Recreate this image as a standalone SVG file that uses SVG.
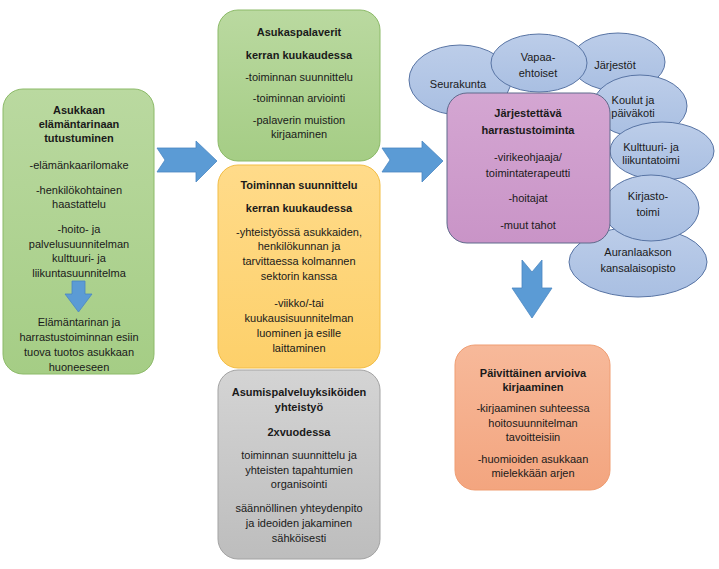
<svg xmlns="http://www.w3.org/2000/svg" width="719" height="569" viewBox="0 0 719 569">
<defs>
<linearGradient id="gGreen" x1="0" y1="0" x2="0" y2="1"><stop offset="0" stop-color="#bad9a0"/><stop offset="1" stop-color="#a5cd85"/></linearGradient>
<linearGradient id="gOrange" x1="0" y1="0" x2="0" y2="1"><stop offset="0" stop-color="#ffdb8a"/><stop offset="1" stop-color="#fdd06a"/></linearGradient>
<linearGradient id="gGray" x1="0" y1="0" x2="0" y2="1"><stop offset="0" stop-color="#d4d4d4"/><stop offset="1" stop-color="#bdbdbd"/></linearGradient>
<linearGradient id="gPurple" x1="0" y1="0" x2="0" y2="1"><stop offset="0" stop-color="#d4a6d2"/><stop offset="1" stop-color="#c994c7"/></linearGradient>
<linearGradient id="gSalmon" x1="0" y1="0" x2="0" y2="1"><stop offset="0" stop-color="#f7b99a"/><stop offset="1" stop-color="#f3a57f"/></linearGradient>
<linearGradient id="gBlue" x1="0" y1="0" x2="0" y2="1"><stop offset="0" stop-color="#bccde9"/><stop offset="1" stop-color="#a9bfe2"/></linearGradient>
</defs>
<style>
text{font-family:"Liberation Sans",Arial,sans-serif;font-size:11px;fill:#1a1a1a;text-anchor:middle}
.b{font-weight:bold}
.green{fill:url(#gGreen);stroke:#8cba68;stroke-width:1}
.orange{fill:url(#gOrange);stroke:#f2bd45;stroke-width:1}
.gray{fill:url(#gGray);stroke:#a3a3a3;stroke-width:1}
.purple{fill:url(#gPurple);stroke:#5f6a8c;stroke-width:1}
.salmon{fill:url(#gSalmon);stroke:#ef9d72;stroke-width:1}
.ell{fill:url(#gBlue);stroke:#5874a4;stroke-width:1}
.arrow{fill:#5b9bd5;stroke:#4a86c2;stroke-width:0.8}
</style>
<g id="connectors">
<path class="arrow" d="M157,148 L196,148 L196,141 L217,161 L196,182 L196,172 L157,172 L165,160 Z"/>
<path class="arrow" d="M382,148 L422,148 L422,141 L443,161 L422,182 L422,172 L382,172 L390,160 Z"/>
<path class="arrow" d="M522,260 L532,272 L542,260 L542,288 L552,288 L532,318 L512,288 L522,288 Z"/>
</g>
<g id="node-left">
<rect class="green" x="3" y="89" width="151" height="285" rx="20"/>
<text class="b" x="79" y="114">Asukkaan</text>
<text class="b" x="79" y="128">elämäntarinaan</text>
<text class="b" x="79" y="142">tutustuminen</text>
<text x="79" y="169">-elämänkaarilomake</text>
<text x="79" y="194">-henkilökohtainen</text>
<text x="79" y="208">haastattelu</text>
<text x="79" y="233">-hoito- ja</text>
<text x="79" y="248">palvelusuunnitelman</text>
<text x="79" y="262">kulttuuri- ja</text>
<text x="79" y="277">liikuntasuunnitelma</text>
<path class="arrow" d="M72,281 L85,281 L85,294 L92,294 L78.5,312 L65,294 L72,294 Z"/>
<text x="79" y="326">Elämäntarinan ja</text>
<text x="79" y="341">harrastustoiminnan esiin</text>
<text x="79" y="356">tuova tuotos asukkaan</text>
<text x="79" y="371">huoneeseen</text>
</g>
<g id="node-palaverit">
<rect class="green" x="218" y="10" width="162" height="151" rx="20"/>
<text class="b" x="299" y="36">Asukaspalaverit</text>
<text class="b" x="299" y="59">kerran kuukaudessa</text>
<text x="299" y="81">-toiminnan suunnittelu</text>
<text x="299" y="102">-toiminnan arviointi</text>
<text x="299" y="124">-palaverin muistion</text>
<text x="299" y="138">kirjaaminen</text>
</g>
<g id="node-suunnittelu">
<rect class="orange" x="218" y="165" width="162" height="203" rx="20"/>
<text class="b" x="299" y="189">Toiminnan suunnittelu</text>
<text class="b" x="299" y="212">kerran kuukaudessa</text>
<text x="299" y="236">-yhteistyössä asukkaiden,</text>
<text x="299" y="250">henkilökunnan ja</text>
<text x="299" y="265">tarvittaessa kolmannen</text>
<text x="299" y="280">sektorin kanssa</text>
<text x="299" y="307">-viikko/-tai</text>
<text x="299" y="322">kuukausisuunnitelman</text>
<text x="299" y="337">luominen ja esille</text>
<text x="299" y="352">laittaminen</text>
</g>
<g id="node-yhteistyo">
<rect class="gray" x="218" y="370" width="162" height="189" rx="20"/>
<text class="b" x="299" y="396">Asumispalveluyksiköiden</text>
<text class="b" x="299" y="411">yhteistyö</text>
<text class="b" x="299" y="436">2xvuodessa</text>
<text x="299" y="459">toiminnan suunnittelu ja</text>
<text x="299" y="474">yhteisten tapahtumien</text>
<text x="299" y="488">organisointi</text>
<text x="299" y="512">säännöllinen yhteydenpito</text>
<text x="299" y="527">ja ideoiden jakaminen</text>
<text x="299" y="542">sähköisesti</text>
</g>
<g id="node-auranlaakso">
<ellipse class="ell" cx="638" cy="262" rx="69" ry="35"/>
<text x="638" y="256">Auranlaakson</text>
<text x="638" y="272">kansalaisopisto</text>
</g>
<g id="node-jarjestot">
<ellipse class="ell" cx="618" cy="62" rx="47" ry="29"/>
<text x="615" y="69">Järjestöt</text>
</g>
<g id="node-seurakunta">
<ellipse class="ell" cx="460" cy="80" rx="51" ry="35"/>
<text x="458" y="88">Seurakunta</text>
</g>
<g id="node-vapaa">
<ellipse class="ell" cx="539" cy="63" rx="48" ry="29"/>
<text x="538" y="61">Vapaa-</text>
<text x="538" y="77">ehtoiset</text>
</g>
<g id="node-koulut">
<ellipse class="ell" cx="640" cy="106" rx="47" ry="31"/>
<text x="633" y="104">Koulut ja</text>
<text x="633" y="117">päiväkoti</text>
</g>
<g id="node-kulttuuri">
<ellipse class="ell" cx="662" cy="151" rx="52" ry="29"/>
<text x="651" y="151">Kulttuuri- ja</text>
<text x="651" y="164">liikuntatoimi</text>
</g>
<g id="node-kirjasto">
<ellipse class="ell" cx="651" cy="208" rx="48" ry="33"/>
<text x="648" y="200">Kirjasto-</text>
<text x="648" y="216">toimi</text>
</g>
<g id="node-harrastus">
<rect class="purple" x="447" y="93" width="163" height="150" rx="20"/>
<text class="b" x="528" y="117">Järjestettävä</text>
<text class="b" x="528" y="134">harrastustoiminta</text>
<text x="528" y="161">-virikeohjaaja/</text>
<text x="528" y="177">toimintaterapeutti</text>
<text x="528" y="202">-hoitajat</text>
<text x="528" y="229">-muut tahot</text>
</g>
<g id="node-kirjaaminen">
<rect class="salmon" x="455" y="345" width="155" height="145" rx="20"/>
<text class="b" x="533" y="377">Päivittäinen arvioiva</text>
<text class="b" x="533" y="391">kirjaaminen</text>
<text x="533" y="412">-kirjaaminen suhteessa</text>
<text x="533" y="427">hoitosuunnitelman</text>
<text x="533" y="441">tavoitteisiin</text>
<text x="533" y="463">-huomioiden asukkaan</text>
<text x="533" y="477">mielekkään arjen</text>
</g>
</svg>
